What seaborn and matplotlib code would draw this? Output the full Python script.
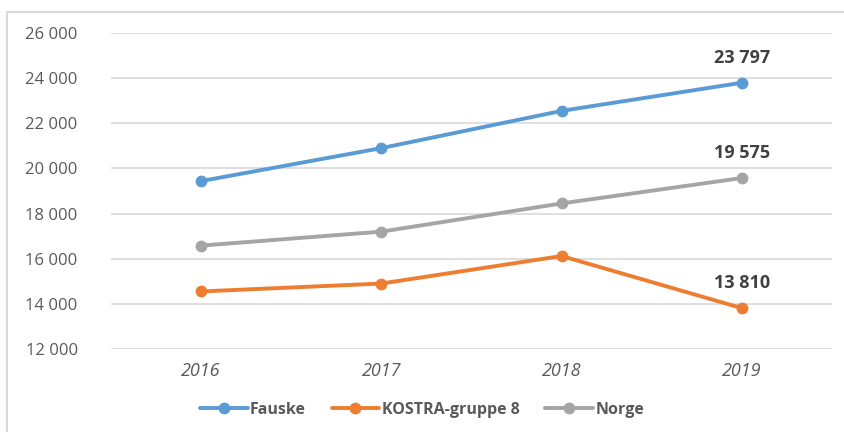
import matplotlib
matplotlib.use("Agg")
import matplotlib.pyplot as plt
import seaborn as sns
import pandas as pd
from matplotlib.patches import Rectangle
from matplotlib.lines import Line2D

years = ["2016", "2017", "2018", "2019"]
fauske = [19440, 20900, 22550, 23797]
kostra = [14550, 14900, 16120, 13810]
norge = [16580, 17200, 18450, 19575]
series_names = ["Fauske", "KOSTRA-gruppe 8", "Norge"]
colors = ["#5B9BD5", "#ED7D31", "#A5A5A5"]
yticks = [12000, 14000, 16000, 18000, 20000, 22000, 24000, 26000]

rows = []
for name, vals in zip(series_names, [fauske, kostra, norge]):
    for i, (y, v) in enumerate(zip(years, vals)):
        rows.append({"pos": i, "year": y, "value": v, "series": name})
df = pd.DataFrame(rows)

sns.set_theme(style="white")
plt.rcParams["font.family"] = ["Open Sans", "DejaVu Sans"]

fig = plt.figure(figsize=(8.45, 4.32), dpi=100)
ax = fig.add_axes([111/845, (432-349)/432, (832-111)/845, (349-33)/432])

sns.lineplot(data=df, x="pos", y="value", hue="series", hue_order=series_names,
             palette=colors, marker="o", markersize=8.5, markeredgewidth=0,
             linewidth=2.8, ax=ax, legend=False)

ax.set_xlim(-0.5, 3.5)
ax.set_ylim(12000, 26000)
ax.set_yticks(yticks)
ax.set_yticklabels([f"{t:,}".replace(",", " ") for t in yticks], fontsize=12, color="#595959")
ax.set_xticks(range(len(years)))
ax.set_xticklabels(years, fontsize=13, color="#595959", style="italic")
ax.tick_params(axis="x", length=0, pad=9)
ax.tick_params(axis="y", length=0, pad=24)
ax.grid(axis="y", color="#D9D9D9", linewidth=1.2)
ax.set_axisbelow(True)
for s in ax.spines.values():
    s.set_visible(False)
ax.set_xlabel("")
ax.set_ylabel("")

for vals in [fauske, kostra, norge]:
    v = vals[-1]
    ax.annotate(f"{v:,}".replace(",", " "), (3, v), xytext=(0, 18), textcoords="offset points",
                ha="center", va="center", fontsize=13, fontweight="bold", color="#404040")

handles = [Line2D([0], [0], color=c, lw=2.8, marker="o", markersize=8.5, markeredgewidth=0) for c in colors]
leg = fig.legend(handles, series_names, loc="center", bbox_to_anchor=(422/845, (432-410)/432),
                 ncol=3, frameon=False, handlelength=3.0, handletextpad=0.15, columnspacing=1.6,
                 prop={"weight": "bold", "size": 11.5})
for t in leg.get_texts():
    t.set_color("#595959")

fig.patches.append(Rectangle((7/845, -0.1), 1.2, (432-12)/432 + 0.1, transform=fig.transFigure,
                             fill=False, edgecolor="#D9D9D9", linewidth=1.5))

fig.savefig("out.png", dpi=100)
